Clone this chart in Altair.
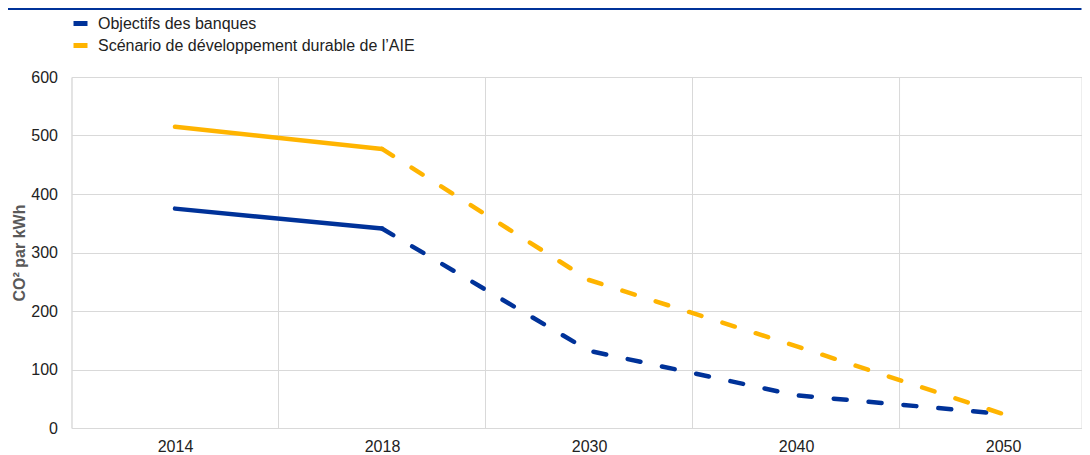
import altair as alt
import pandas as pd

years = ["2014", "2018", "2030", "2040", "2050"]
objectifs_banques = [375, 341, 132, 56, 24]
scenario_aie = [515, 477, 253, 140, 24]
series_names = ["Objectifs des banques", "Scénario de développement durable de l’AIE"]
series_colors = ["#003299", "#FFB400"]
y_ticks = [0, 100, 200, 300, 400, 500, 600]
category_boundaries = [0.5, 1.5, 2.5, 3.5]

rows = []
for name, vals in zip(series_names, [objectifs_banques, scenario_aie]):
    for i, (yr, v) in enumerate(zip(years, vals)):
        rows.append(dict(idx=i, year=yr, value=v, series=name, hist=i <= 1, proj=i >= 1))
df = pd.DataFrame(rows)
grid_df = pd.DataFrame({"idx": category_boundaries})

label_expr = "[" + ",".join(f"'{y}'" for y in years) + "][datum.value]"
FONT = "Liberation Sans, Arial, sans-serif"
GRID = "#d9d9d9"

x_enc = alt.X(
    "idx:Q",
    scale=alt.Scale(domain=[-0.5, 4.379], nice=False, zero=False),
    axis=alt.Axis(values=list(range(len(years))), labelExpr=label_expr, grid=False,
                  ticks=False, domain=True, domainColor=GRID, labelFontSize=16,
                  labelPadding=10, labelColor="#222222", title=None),
)
y_enc = alt.Y(
    "value:Q",
    scale=alt.Scale(domain=[0, 600], nice=False),
    axis=alt.Axis(values=y_ticks, grid=True, gridColor=GRID, ticks=False, domain=True,
                  domainColor=GRID, labelFontSize=16, labelPadding=14, labelColor="#222222",
                  title="CO² par kWh", titleFontSize=16, titleFontWeight="bold",
                  titleColor="#595959", titlePadding=3),
)
color_enc = alt.Color(
    "series:N",
    scale=alt.Scale(domain=series_names, range=series_colors),
    legend=alt.Legend(orient="none", legendX=-0.5, legendY=-63, title=None,
                      symbolType="stroke", symbolSize=196, symbolStrokeWidth=5,
                      labelFontSize=16, labelOffset=8, rowPadding=1, padding=0,
                      labelColor="#222222", labelLimit=600),
)

vgrid = alt.Chart(grid_df).mark_rule(color=GRID, strokeWidth=1).encode(x=x_enc)

solid = alt.Chart(df).transform_filter("datum.hist").mark_line(
    strokeWidth=4.5, strokeCap="round", strokeJoin="round"
).encode(x=x_enc, y=y_enc, color=color_enc, detail="series:N", order="idx:Q")

dashed = alt.Chart(df).transform_filter("datum.proj").mark_line(
    strokeWidth=4.5, strokeCap="round", strokeJoin="round", strokeDash=[13, 22]
).encode(x=x_enc, y=y_enc, color=color_enc, detail="series:N", order="idx:Q")

top_rule = alt.Chart(pd.DataFrame({"k": [0]})).mark_rule(color="#003299", strokeWidth=2).encode(
    x=alt.value(-63.5), x2=alt.value(1010), y=alt.value(-68)
)

chart = alt.layer(vgrid, solid, dashed, top_rule).properties(
    width=1010, height=351,
    padding={"left": 63.5, "top": 69, "right": 0, "bottom": 27},
    autosize=alt.AutoSizeParams(type="none"),
).configure_view(stroke=None).configure(font=FONT)

chart.save("out.html", embed_options={"renderer": "svg", "actions": False})
